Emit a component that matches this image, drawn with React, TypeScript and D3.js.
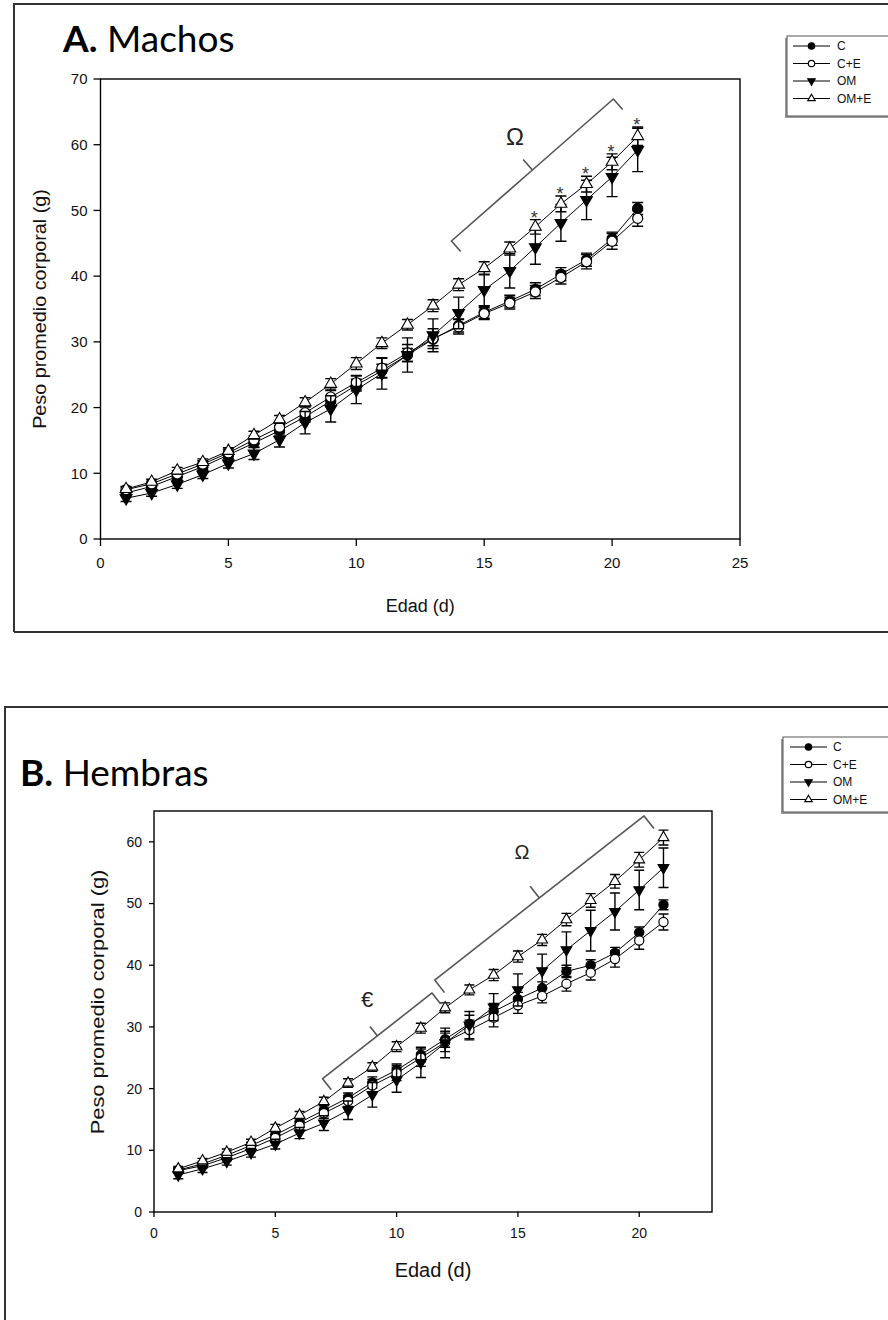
import React, { useEffect, useRef } from "react";
import * as d3 from "d3";

// --- data ---
const days = [1, 2, 3, 4, 5, 6, 7, 8, 9, 10, 11, 12, 13, 14, 15, 16, 17, 18, 19, 20, 21];
const seriesNames = ["C", "C+E", "OM", "OM+E"];

// A. Machos
const machosC = [7.0, 8.0, 9.5, 11.0, 12.8, 14.6, 16.5, 18.6, 21.0, 23.4, 25.6, 28.0, 30.4, 32.5, 34.5, 36.2, 38.0, 40.3, 42.5, 45.7, 50.3];
const machosCE = [7.5, 8.4, 9.9, 11.4, 13.1, 15.1, 17.0, 19.2, 21.6, 23.8, 26.0, 28.3, 30.5, 32.3, 34.3, 35.9, 37.6, 39.8, 42.2, 45.3, 48.8];
const machosOM = [6.2, 7.0, 8.3, 9.8, 11.5, 13.0, 15.1, 17.7, 19.8, 22.7, 25.2, 28.0, 31.0, 34.4, 37.9, 40.8, 44.4, 48.1, 51.6, 55.1, 59.2];
const machosOME = [7.6, 8.7, 10.4, 11.7, 13.4, 15.8, 18.2, 20.8, 23.6, 26.7, 29.8, 32.6, 35.5, 38.7, 41.2, 44.2, 47.5, 51.0, 54.0, 57.4, 61.3];
const machosCErr = [0.4, 0.4, 0.5, 0.5, 0.6, 0.6, 0.7, 0.8, 0.8, 0.9, 1.0, 1.0, 1.0, 1.0, 0.9, 0.9, 1.0, 1.0, 1.0, 1.0, 0.9];
const machosCEErr = [0.4, 0.4, 0.5, 0.5, 0.6, 0.6, 0.8, 0.9, 1.0, 1.1, 1.5, 1.3, 1.5, 1.1, 0.9, 0.9, 1.0, 1.0, 1.1, 1.2, 1.2];
const machosOMErr = [0.5, 0.5, 0.6, 0.6, 0.7, 0.9, 1.1, 1.7, 2.0, 2.1, 2.4, 2.6, 2.5, 2.4, 2.4, 2.6, 2.6, 2.8, 3.0, 3.0, 3.3];
const machosOMEErr = [0.4, 0.4, 0.5, 0.5, 0.5, 0.6, 0.6, 0.7, 0.8, 0.9, 0.8, 0.8, 0.9, 0.9, 1.0, 1.0, 1.1, 1.2, 1.2, 1.2, 1.4];

// B. Hembras
const hembrasC = [6.8, 7.8, 9.2, 10.8, 12.5, 14.5, 16.5, 18.5, 21.0, 23.0, 25.5, 28.0, 30.5, 32.5, 34.5, 36.3, 39.0, 40.0, 42.0, 45.3, 49.8];
const hembrasCE = [6.7, 7.5, 8.8, 10.3, 12.0, 14.0, 16.0, 18.0, 20.5, 22.5, 25.0, 27.5, 29.5, 31.5, 33.5, 35.0, 37.0, 38.8, 41.0, 44.0, 47.0];
const hembrasOM = [6.0, 7.0, 8.2, 9.6, 11.0, 12.8, 14.4, 16.5, 19.0, 21.4, 24.2, 27.4, 30.3, 33.2, 36.0, 39.1, 42.5, 45.6, 48.7, 52.2, 55.8];
const hembrasOME = [7.0, 8.3, 9.7, 11.3, 13.6, 15.7, 17.9, 20.9, 23.5, 26.8, 29.8, 33.1, 36.0, 38.4, 41.4, 44.1, 47.4, 50.5, 53.6, 57.1, 60.7];
const hembrasCErr = [0.4, 0.4, 0.5, 0.5, 0.6, 0.7, 0.8, 0.8, 0.9, 1.0, 1.2, 1.3, 1.4, 1.3, 1.1, 1.0, 1.0, 0.9, 0.9, 0.9, 0.8];
const hembrasCEErr = [0.4, 0.4, 0.5, 0.5, 0.6, 0.7, 0.8, 0.9, 1.0, 1.2, 1.4, 1.5, 1.6, 1.5, 1.3, 1.1, 1.2, 1.2, 1.3, 1.4, 1.3];
const hembrasOMErr = [0.6, 0.6, 0.6, 0.7, 0.8, 0.9, 1.2, 1.5, 2.0, 2.0, 2.4, 2.4, 2.2, 2.2, 2.6, 2.7, 2.9, 3.3, 3.0, 3.2, 3.2];
const hembrasOMEErr = [0.4, 0.4, 0.5, 0.5, 0.6, 0.6, 0.7, 0.7, 0.7, 0.8, 0.8, 0.8, 0.8, 0.9, 0.9, 0.9, 1.0, 1.1, 1.1, 1.2, 1.2];

const xTicksA = [0, 5, 10, 15, 20, 25];
const yTicksA = [0, 10, 20, 30, 40, 50, 60, 70];
const xTicksB = [0, 5, 10, 15, 20];
const yTicksB = [0, 10, 20, 30, 40, 50, 60];

// significance marks
const starDaysA = [17, 18, 19, 20, 21];

const FONT = "'Liberation Sans', Arial, sans-serif";
const NARROW = "'Liberation Sans Narrow', 'Arial Narrow', 'Liberation Sans', sans-serif";
const TITLE_FONT = "Lato, 'Open Sans', sans-serif";

const markerKind = ["circleFilled", "circleOpen", "triDown", "triUp"];

function drawMarker(g, kind, x, y, s) {
  if (kind.startsWith("circle")) {
    g.append("circle")
      .attr("cx", x)
      .attr("cy", y)
      .attr("r", s * 0.46)
      .attr("fill", kind === "circleFilled" ? "#000" : "#fff")
      .attr("stroke", "#000")
      .attr("stroke-width", 1.2);
  } else {
    const tri = d3.symbol().type(d3.symbolTriangle).size(s * s * 0.5)();
    g.append("path")
      .attr("d", tri)
      .attr("transform", `translate(${x},${y}) rotate(${kind === "triDown" ? 180 : 0})`)
      .attr("fill", kind === "triDown" ? "#000" : "#fff")
      .attr("stroke", "#000")
      .attr("stroke-width", 1.1);
  }
}

function drawPanel(svg, p) {
  const x = d3.scaleLinear().domain(p.xDomain).range(p.xRange);
  const y = d3.scaleLinear().domain(p.yDomain).range(p.yRange);
  const root = svg.append("g");

  // outer frame
  root.append("path")
    .attr("d", `M${p.frame[0]},${p.frameBottom} L${p.frame[0]},${p.frame[1]} L890,${p.frame[1]}` +
      (p.frameBottomLine ? ` M${p.frame[0]},${p.frameBottom} L890,${p.frameBottom}` : ""))
    .attr("fill", "none")
    .attr("stroke", "#333")
    .attr("stroke-width", 2);

  // title
  const t = root.append("text")
    .attr("x", p.titleX)
    .attr("y", p.titleY)
    .attr("font-family", TITLE_FONT)
    .attr("font-size", p.titleSize)
    .attr("fill", "#000");
  t.append("tspan").attr("font-weight", "bold").text(p.title[0]);
  t.append("tspan").text(p.title[1]);

  // plot box
  const [x0, x1] = p.xRange;
  const [y0, y1] = p.yRange;
  root.append("rect")
    .attr("x", x0)
    .attr("y", y1)
    .attr("width", x1 - x0)
    .attr("height", y0 - y1)
    .attr("fill", "none")
    .attr("stroke", "#000")
    .attr("stroke-width", 1.4);

  // ticks
  const ax = root.append("g").attr("font-family", p.tickFont).attr("font-size", p.tickSize).attr("fill", "#111");
  p.xTicks.forEach((v) => {
    ax.append("line").attr("x1", x(v)).attr("x2", x(v)).attr("y1", y0).attr("y2", y0 + p.tickLen)
      .attr("stroke", "#000").attr("stroke-width", 1.3);
    ax.append("text").attr("x", x(v)).attr("y", y0 + p.xLabelDy).attr("text-anchor", "middle").text(v);
  });
  p.yTicks.forEach((v) => {
    ax.append("line").attr("x1", x0 - p.tickLen).attr("x2", x0).attr("y1", y(v)).attr("y2", y(v))
      .attr("stroke", "#000").attr("stroke-width", 1.3);
    ax.append("text").attr("x", x0 - p.yLabelDx).attr("y", y(v)).attr("dy", "0.35em")
      .attr("text-anchor", "end").text(v);
  });

  // axis titles
  root.append("text")
    .attr("x", (x0 + x1) / 2)
    .attr("y", p.xTitleY)
    .attr("text-anchor", "middle")
    .attr("font-family", FONT)
    .attr("font-size", p.xTitleSize)
    .attr("fill", "#111")
    .text("Edad (d)");
  root.append("text")
    .attr("transform", `translate(${p.yTitleX},${p.yTitleCy ?? (y0 + y1) / 2}) rotate(-90) scale(${p.yTitleStretch},1)`)
    .attr("text-anchor", "middle")
    .attr("font-family", FONT)
    .attr("font-size", p.yTitleSize)
    .attr("fill", "#111")
    .text("Peso promedio corporal (g)");

  // series
  const line = d3.line().x((d) => x(d[0])).y((d) => y(d[1]));
  p.series.forEach((s, si) => {
    const g = root.append("g");
    const pts = days.map((d, i) => [d, s.values[i], s.errors[i]]);
    pts.forEach(([d, v, e]) => {
      const cx = x(d);
      g.append("path")
        .attr("d", `M${cx},${y(v - e)} V${y(v + e)} M${cx - p.cap},${y(v - e)} h${2 * p.cap} M${cx - p.cap},${y(v + e)} h${2 * p.cap}`)
        .attr("stroke", "#000")
        .attr("stroke-width", 1.4)
        .attr("fill", "none");
    });
    g.append("path")
      .attr("d", line(pts))
      .attr("fill", "none")
      .attr("stroke", "#000")
      .attr("stroke-width", 1);
    pts.forEach(([d, v]) => drawMarker(g, markerKind[si], x(d), y(v), p.marker));
  });

  // brackets
  p.brackets.forEach((b) => {
    const [ax0, ay0] = [x(b.from[0]), y(b.from[1])];
    const [ax1, ay1] = [x(b.to[0]), y(b.to[1])];
    const len = Math.hypot(ax1 - ax0, ay1 - ay0);
    const ux = (ax1 - ax0) / len;
    const uy = (ay1 - ay0) / len;
    const nx = -uy;
    const ny = ux;
    const mx = (ax0 + ax1) / 2;
    const my = (ay0 + ay1) / 2;
    root.append("path")
      .attr("d",
        `M${ax0 + nx * b.hook},${ay0 + ny * b.hook} L${ax0},${ay0} L${mx},${my} L${mx - nx * b.cusp},${my - ny * b.cusp}` +
        ` M${mx},${my} L${ax1},${ay1} L${ax1 + nx * b.hook},${ay1 + ny * b.hook}`)
      .attr("fill", "none")
      .attr("stroke", "#555")
      .attr("stroke-width", 1.6)
      .attr("stroke-linejoin", "round");
    root.append("text")
      .attr("x", x(b.labelAt[0]))
      .attr("y", y(b.labelAt[1]))
      .attr("dy", "0.35em")
      .attr("text-anchor", "middle")
      .attr("font-family", FONT)
      .attr("font-size", b.labelSize)
      .attr("fill", "#222")
      .text(b.label);
  });

  // asterisks
  if (p.stars) {
    const top = p.series[3];
    p.stars.forEach((d) => {
      const i = days.indexOf(d);
      root.append("text")
        .attr("x", x(d) - 1)
        .attr("y", y(top.values[i] + top.errors[i]) + 4)
        .attr("text-anchor", "middle")
        .attr("font-family", FONT)
        .attr("font-size", 18)
        .attr("fill", "#333")
        .text("*");
    });
  }

  // legend
  const L = p.legend;
  const lg = root.append("g");
  lg.append("rect").attr("x", L.x - 2).attr("y", L.y + 2).attr("width", L.w).attr("height", L.h).attr("fill", "#999");
  lg.append("rect").attr("x", L.x).attr("y", L.y).attr("width", L.w).attr("height", L.h)
    .attr("fill", "#fff").attr("stroke", "#555").attr("stroke-width", 1);
  seriesNames.forEach((name, i) => {
    const ry = L.row0 + i * L.gap;
    lg.append("line").attr("x1", L.line0).attr("x2", L.line1).attr("y1", ry).attr("y2", ry)
      .attr("stroke", "#000").attr("stroke-width", 1);
    drawMarker(lg, markerKind[i], (L.line0 + L.line1) / 2, ry, 7);
    lg.append("text").attr("x", L.textX).attr("y", ry).attr("dy", "0.35em")
      .attr("font-family", FONT).attr("font-size", L.font).attr("fill", "#111").text(name);
  });
}

export default function App() {
  const ref = useRef(null);

  useEffect(() => {
    const svg = d3.select(ref.current);
    svg.selectAll("*").remove();

    drawPanel(svg, {
      title: ["A.", " Machos"],
      titleX: 63, titleY: 52, titleSize: 37,
      frame: [14, 4], frameBottom: 632, frameBottomLine: true,
      xDomain: [0, 25], xRange: [100.5, 740],
      yDomain: [0, 70], yRange: [539, 79],
      xTicks: xTicksA, yTicks: yTicksA,
      tickFont: FONT, tickSize: 15, tickLen: 7, xLabelDy: 29, yLabelDx: 13,
      xTitleSize: 18, yTitleSize: 18, yTitleStretch: 1.1, xTitleY: 612, yTitleX: 46,
      cap: 5.5, marker: 11,
      series: [
        { values: machosC, errors: machosCErr },
        { values: machosCE, errors: machosCEErr },
        { values: machosOM, errors: machosOMErr },
        { values: machosOME, errors: machosOMEErr },
      ],
      brackets: [
        { from: [13.72, 45.35], to: [20.05, 66.96], hook: 14, cusp: 14, label: "Ω", labelAt: [16.2, 61.3], labelSize: 24 },
      ],
      stars: starDaysA,
      legend: { x: 787, y: 36, w: 110, h: 80, row0: 46, gap: 17.5, line0: 793, line1: 830, textX: 837, font: 12 },
    });

    drawPanel(svg, {
      title: ["B.", " Hembras"],
      titleX: 20, titleY: 786, titleSize: 37,
      frame: [5, 707], frameBottom: 1322, frameBottomLine: false,
      xDomain: [0, 23], xRange: [154, 712],
      yDomain: [0, 65], yRange: [1212, 811],
      xTicks: xTicksB, yTicks: yTicksB,
      tickFont: NARROW, tickSize: 14, tickLen: 5, xLabelDy: 26, yLabelDx: 12,
      xTitleSize: 20, yTitleSize: 19, yTitleStretch: 1.15, xTitleY: 1277, yTitleX: 104, yTitleCy: 1002,
      cap: 5, marker: 10,
      series: [
        { values: hembrasC, errors: hembrasCErr },
        { values: hembrasCE, errors: hembrasCEErr },
        { values: hembrasOM, errors: hembrasOMErr },
        { values: hembrasOME, errors: hembrasOMEErr },
      ],
      brackets: [
        { from: [11.57, 37.6], to: [20.2, 64.2], hook: 16, cusp: 15, label: "Ω", labelAt: [15.17, 58.4], labelSize: 20 },
        { from: [6.95, 21.6], to: [11.46, 35.5], hook: 14, cusp: 12, label: "€", labelAt: [8.78, 34.4], labelSize: 22 },
      ],
      stars: null,
      legend: { x: 783, y: 737, w: 115, h: 75, row0: 747, gap: 17.5, line0: 790, line1: 827, textX: 833, font: 12 },
    });
  }, []);

  return (
    <svg
      ref={ref}
      width={888}
      height={1320}
      style={{ position: "absolute", left: 0, top: 0, background: "#fff" }}
    />
  );
}
